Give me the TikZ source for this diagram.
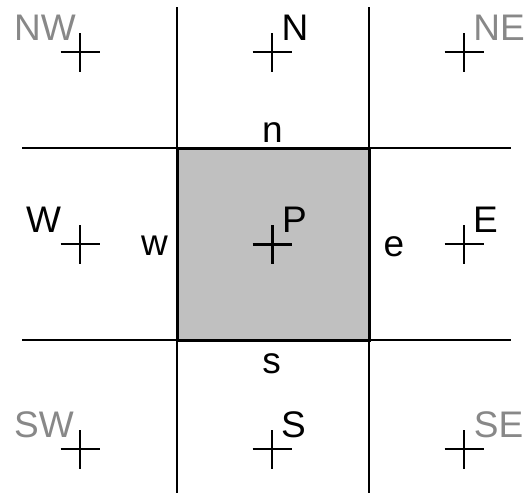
\documentclass[tikz,border=0pt]{standalone}
\usepackage{fontspec}
\setmainfont{Liberation Sans}
\begin{document}
\begin{tikzpicture}[x=1pt,y=-1pt,
  lbl/.style={anchor=base,inner sep=0pt,font=\fontsize{37}{40}\selectfont},
  glbl/.style={lbl,text=labelgray},
  gridline/.style={line width=1.6pt,black},
  crossmark/.style={line width=1.2pt,black},
  bigcross/.style={line width=3pt,black}]
\definecolor{labelgray}{RGB}{136,136,136}
\definecolor{cellgray}{RGB}{192,192,192}
\useasboundingbox (0,0) rectangle (525,496);
% grid lines
\coordinate (v1t) at (177,7);   \coordinate (v1b) at (177,493);
\coordinate (v2t) at (369,7);   \coordinate (v2b) at (369,493);
\coordinate (h1l) at (22,148);  \coordinate (h1r) at (511,148);
\coordinate (h2l) at (22,340);  \coordinate (h2r) at (511,340);
\draw[gridline] (v1t) -- (v1b);
\draw[gridline] (v2t) -- (v2b);
\draw[gridline] (h1l) -- (h1r);
\draw[gridline] (h2l) -- (h2r);
% control volume
\draw[line width=3pt,fill=cellgray] (177,148) rectangle (369,340);
% cross centres
\coordinate (cNW) at (80,52);  \coordinate (cN) at (272,52);  \coordinate (cNE) at (464,52);
\coordinate (cW) at (80,244);  \coordinate (cP) at (272,244); \coordinate (cE) at (464,244);
\coordinate (cSW) at (80,449); \coordinate (cS) at (272,449); \coordinate (cSE) at (464,449);
\foreach \c in {cNW,cN,cNE,cW,cE,cSW,cS,cSE}{
  \draw[crossmark] ([xshift=-19.5pt]\c) -- ([xshift=19.5pt]\c);
  \draw[crossmark] ([yshift=-19.5pt]\c) -- ([yshift=19.5pt]\c);
}
\draw[bigcross] ([xshift=-19.5pt]cP) -- ([xshift=19.5pt]cP);
\draw[bigcross] ([yshift=-19.5pt]cP) -- ([yshift=19.5pt]cP);
% labels
\node[glbl] (lNW) at (45,40) {NW};
\node[lbl]  (lN)  at (295,40) {N};
\node[glbl] (lNE) at (499,40) {NE};
\node[lbl]  (ln)  at (272.5,142) {n};
\node[lbl]  (lW)  at (43.5,232) {W};
\node[lbl]  (lw)  at (154.5,255.5) {w};
\node[lbl]  (lP)  at (294.5,232) {P};
\node[lbl]  (le)  at (394,256.5) {e};
\node[lbl]  (lE)  at (485.5,232) {E};
\node[lbl]  (ls)  at (271.5,373) {s};
\node[glbl] (lSW) at (44,437) {SW};
\node[lbl]  (lS)  at (293.5,437) {S};
\node[glbl] (lSE) at (498.5,437) {SE};
\end{tikzpicture}
\end{document}
